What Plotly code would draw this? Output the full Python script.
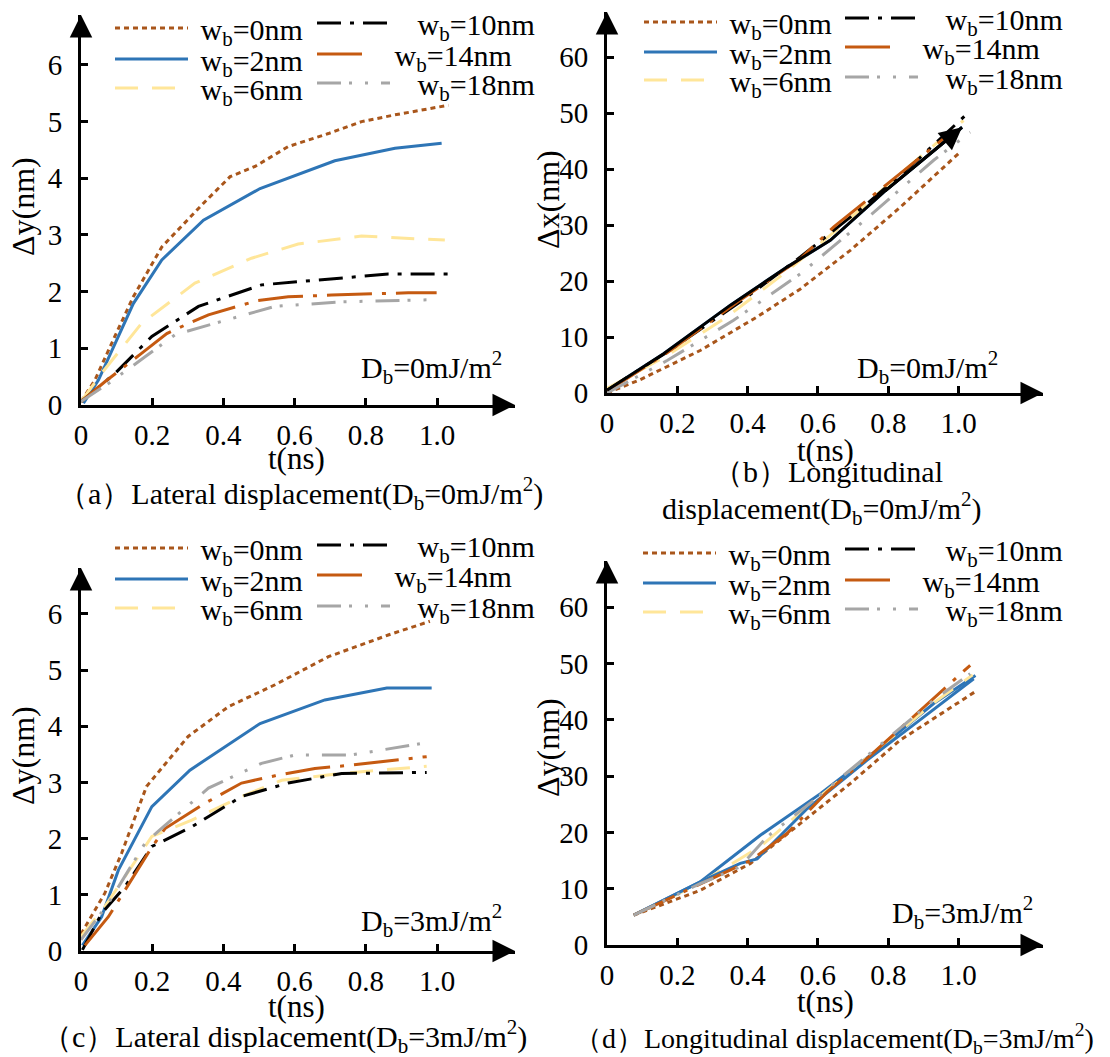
import plotly.graph_objects as go

W, H = 1110, 1057
FONT = "Liberation Serif"

# ---------------- data ----------------
LABELS = ["w<sub>b</sub>=0nm", "w<sub>b</sub>=2nm", "w<sub>b</sub>=6nm",
          "w<sub>b</sub>=10nm", "w<sub>b</sub>=14nm", "w<sub>b</sub>=18nm"]
X_TICKS = [0, 0.2, 0.4, 0.6, 0.8, 1.0]
X_TICKTEXT = ["0", "0.2", "0.4", "0.6", "0.8", "1.0"]
Y_TICKS_LAT = [0, 1, 2, 3, 4, 5, 6]
Y_TICKS_LON = [0, 10, 20, 30, 40, 50, 60]

# (a) lateral displacement, Db = 0
a_t_0 = [0, 0.039, 0.095, 0.147, 0.227, 0.344, 0.419, 0.489, 0.582, 0.695, 0.788, 0.882, 1.032]
a_v_0 = [0.06, 0.44, 1.21, 1.91, 2.79, 3.56, 4.03, 4.21, 4.56, 4.79, 5.0, 5.12, 5.29]
a_t_2 = [0.007, 0.049, 0.147, 0.227, 0.344, 0.503, 0.713, 0.882, 1.013]
a_v_2 = [0.03, 0.44, 1.79, 2.56, 3.26, 3.82, 4.31, 4.53, 4.62]
a_t_6 = [0, 0.058, 0.170, 0.320, 0.479, 0.610, 0.788, 1.022]
a_v_6 = [0.06, 0.56, 1.44, 2.15, 2.59, 2.84, 2.98, 2.91]
a_t_10 = [0, 0.096, 0.199, 0.330, 0.507, 0.732, 0.863, 1.032]
a_v_10 = [0.06, 0.56, 1.21, 1.74, 2.12, 2.24, 2.31, 2.31]
a_t_14 = [0, 0.067, 0.170, 0.241, 0.292, 0.358, 0.493, 0.582, 0.704, 0.919, 0.999]
a_v_14 = [0.06, 0.41, 0.91, 1.26, 1.41, 1.59, 1.84, 1.91, 1.94, 1.98, 1.98]
a_t_18 = [0, 0.077, 0.180, 0.264, 0.358, 0.545, 0.732, 0.999]
a_v_18 = [0.06, 0.38, 0.85, 1.24, 1.41, 1.74, 1.82, 1.86]

# (b) longitudinal displacement, Db = 0
b_t_0 = [0, 0.095, 0.265, 0.427, 0.550, 0.692, 0.834, 1.005]
b_v_0 = [0, 2.4, 7.6, 13.6, 18.6, 25.5, 33.2, 43.1]
b_t_2 = [0, 0.161, 0.351, 0.512, 0.635, 0.787, 1.010]
b_v_2 = [0.5, 7.0, 15.7, 22.5, 27.3, 35.9, 47.5]
b_t_6 = [0, 0.171, 0.341, 0.502, 0.664, 0.834, 1.014]
b_v_6 = [0.8, 6.7, 13.6, 21.3, 29.7, 39.2, 48.7]
b_t_10 = [0, 0.171, 0.379, 0.550, 0.739, 0.882, 1.019]
b_v_10 = [0.5, 7.3, 16.3, 24.3, 33.8, 41.6, 49.6]
b_t_14 = [0, 0.171, 0.379, 0.550, 0.645, 0.787, 0.986]
b_v_14 = [0.3, 7.2, 16.6, 24.0, 29.7, 36.8, 46.9]
b_t_18 = [0, 0.171, 0.360, 0.550, 0.739, 0.929, 1.033]
b_v_18 = [0, 5.8, 13.0, 21.3, 31.2, 41.6, 46.6]

# (c) lateral displacement, Db = 3
c_t_0 = [0, 0.067, 0.114, 0.184, 0.301, 0.414, 0.545, 0.695, 0.865, 0.98]
c_v_0 = [0.3, 1.03, 1.74, 2.93, 3.82, 4.35, 4.74, 5.24, 5.63, 5.87]
c_t_2 = [0.004, 0.058, 0.105, 0.199, 0.306, 0.503, 0.685, 0.859, 0.985]
c_v_2 = [0.1, 0.61, 1.44, 2.57, 3.22, 4.05, 4.47, 4.68, 4.68]
c_t_6 = [0, 0.067, 0.199, 0.311, 0.451, 0.564, 0.732, 0.971]
c_v_6 = [0.26, 0.79, 2.04, 2.33, 2.75, 3.04, 3.16, 3.29]
c_t_10 = [0.004, 0.058, 0.124, 0.199, 0.311, 0.451, 0.582, 0.732, 0.971]
c_v_10 = [0.02, 0.67, 1.15, 1.86, 2.21, 2.75, 2.99, 3.16, 3.18]
c_t_14 = [0.011, 0.077, 0.194, 0.236, 0.348, 0.451, 0.545, 0.657, 0.760, 0.971]
c_v_14 = [0.1, 0.61, 1.80, 2.18, 2.63, 2.99, 3.12, 3.25, 3.31, 3.46]
c_t_18 = [0, 0.077, 0.180, 0.231, 0.358, 0.507, 0.601, 0.760, 0.952]
c_v_18 = [0.2, 0.85, 1.92, 2.21, 2.90, 3.34, 3.49, 3.49, 3.69]

# (d) longitudinal displacement, Db = 3
d_t_0 = [0.076, 0.265, 0.408, 0.550, 0.692, 0.834, 1.052]
d_v_0 = [5.3, 9.7, 14.5, 21.6, 28.7, 36.4, 45.2]
d_t_2 = [0.076, 0.265, 0.436, 0.607, 0.768, 0.929, 1.048]
d_v_2 = [5.3, 11.2, 19.5, 26.9, 34.6, 42.9, 47.9]
d_t_6 = [0.076, 0.265, 0.436, 0.588, 0.758, 0.929, 1.040]
d_v_6 = [5.3, 11.0, 17.5, 25.5, 34.2, 43.0, 48.0]
d_t_10 = [0.076, 0.265, 0.379, 0.427, 0.569, 0.739, 0.882, 1.043]
d_v_10 = [5.3, 11.2, 14.5, 15.3, 24.2, 32.8, 39.6, 47.3]
d_t_14 = [0.076, 0.265, 0.408, 0.512, 0.626, 0.739, 0.891, 1.033]
d_v_14 = [5.3, 10.9, 15.0, 19.8, 27.2, 33.1, 41.7, 49.7]
d_t_18 = [0.076, 0.265, 0.379, 0.455, 0.588, 0.758, 0.929, 1.033]
d_v_18 = [5.3, 10.9, 13.9, 19.2, 25.7, 34.6, 43.5, 48.2]

# ---------------- styles ----------------
COLORS = ["#A9561B", "#2E75B6", "#FFE699", "#000000", "#C55A11", "#A6A6A6"]
DASHES = ["5px,4px", "solid", "23px,14px", "24px,9px,4px,9px",
          "45px,10px,4px,10px", "24px,8px,3px,13px,3px,13px"]
WIDTHS = [3, 3, 3, 3, 3, 3]

# panel geometry in pixels: origin, px per unit, arrow tips
GEOM = [
    dict(ox=81, oy=405, sx=356.0, sy=56.67, xtip=515, ytip=15),
    dict(ox=607, oy=393, sx=351.6, sy=5.595, xtip=1043, ytip=12),
    dict(ox=81, oy=951, sx=356.0, sy=56.17, xtip=515, ytip=568),
    dict(ox=607, oy=945, sx=351.6, sy=5.628, xtip=1043, ytip=561),
]
# legend geometry: (line start x, row centre y) for each series
LEG_POS = [
    [(115, 28), (115, 59), (115, 88), (317, 23), (317, 54), (317, 83)],
    [(644, 22), (644, 52), (644, 80), (845, 18), (845, 47), (845, 77)],
    [(115, 548), (115, 579), (115, 608), (317, 545), (317, 575), (317, 606)],
    [(643, 553), (643, 583), (643, 612), (845, 549), (845, 580), (845, 609)],
]

PANELS = [
    [(a_t_0, a_v_0), (a_t_2, a_v_2), (a_t_6, a_v_6), (a_t_10, a_v_10), (a_t_14, a_v_14), (a_t_18, a_v_18)],
    [(b_t_0, b_v_0), (b_t_2, b_v_2), (b_t_6, b_v_6), (b_t_10, b_v_10), (b_t_14, b_v_14), (b_t_18, b_v_18)],
    [(c_t_0, c_v_0), (c_t_2, c_v_2), (c_t_6, c_v_6), (c_t_10, c_v_10), (c_t_14, c_v_14), (c_t_18, c_v_18)],
    [(d_t_0, d_v_0), (d_t_2, d_v_2), (d_t_6, d_v_6), (d_t_10, d_v_10), (d_t_14, d_v_14), (d_t_18, d_v_18)],
]


def fx(p):
    return p / W


def fy(p):
    return 1 - p / H


fig = go.Figure()
layout = dict(
    width=W, height=H, template="none",
    margin=dict(l=0, r=0, t=0, b=0, autoexpand=False),
    paper_bgcolor="white", plot_bgcolor="rgba(0,0,0,0)",
    font=dict(family=FONT, size=29, color="black"),
    showlegend=True,
)
annotations = []
leg_n = 0

for i, (series, g) in enumerate(zip(PANELS, GEOM)):
    sfx = "" if i == 0 else str(i + 1)
    xa, ya = "x" + sfx, "y" + sfx
    xmax = (g["xtip"] - g["ox"]) / g["sx"]
    ymax = (g["oy"] - g["ytip"]) / g["sy"]
    lat = i in (0, 2)
    common = dict(showline=True, linewidth=3, linecolor="black", mirror=False,
                  ticks="inside", ticklen=7, tickwidth=2.5, tickcolor="black",
                  showgrid=False, zeroline=False, automargin=False,
                  tickfont=dict(family=FONT, size=29, color="black"), fixedrange=True)
    layout["xaxis" + sfx] = dict(common, domain=[fx(g["ox"]), fx(g["xtip"])], range=[0, xmax],
                                 anchor=ya, tickmode="array", tickvals=X_TICKS,
                                 ticktext=X_TICKTEXT, ticklabelstandoff=2)
    layout["yaxis" + sfx] = dict(common, domain=[fy(g["oy"]), fy(g["ytip"])], range=[0, ymax],
                                 anchor=xa, tickmode="array",
                                 tickvals=Y_TICKS_LAT if lat else Y_TICKS_LON,
                                 ticklabelstandoff=10)
    # arrow heads of the axes
    annotations.append(dict(x=xmax, y=0, xref=xa, yref=ya, ax=-22, ay=0, text="",
                            showarrow=True, arrowhead=2, arrowsize=1.5, arrowwidth=3,
                            arrowcolor="black"))
    annotations.append(dict(x=0, y=ymax, xref=xa, yref=ya, ax=0, ay=22, text="",
                            showarrow=True, arrowhead=2, arrowsize=1.5, arrowwidth=3,
                            arrowcolor="black"))

    for k, (t, v) in enumerate(series):
        leg_n += 1
        lid = "legend" if leg_n == 1 else "legend%d" % leg_n
        line = dict(color=COLORS[k], width=WIDTHS[k], dash=DASHES[k])
        pad = "\u00a0" if k < 3 else "\u00a0\u00a0\u00a0"
        if i == 3 and k == 3:
            # in (d) the wb=10nm curve is drawn as a solid blue line
            fig.add_trace(go.Scatter(x=t, y=v, mode="lines", xaxis=xa, yaxis=ya,
                                     line=dict(color=COLORS[1], width=3), showlegend=False,
                                     hoverinfo="skip"))
            fig.add_trace(go.Scatter(x=[None], y=[None], mode="lines", xaxis=xa, yaxis=ya,
                                     line=line, name=pad + LABELS[k], legend=lid,
                                     hoverinfo="skip"))
        else:
            fig.add_trace(go.Scatter(x=t, y=v, mode="lines", xaxis=xa, yaxis=ya, line=line,
                                     name=pad + LABELS[k], legend=lid, hoverinfo="skip"))
        lx, ly = LEG_POS[i][k]
        layout[lid] = dict(x=fx(lx - 5), y=fy(ly), xanchor="left", yanchor="middle",
                           orientation="v", bgcolor="rgba(0,0,0,0)", borderwidth=0,
                           itemwidth=73 if k != 4 else 50,
                           font=dict(family=FONT, size=30, color="black"),
                           itemclick=False, itemdoubleclick=False)
    if i == 1:
        # black overlay with arrow head on the wb=2nm curve of panel (b)
        t, v = series[1]
        fig.add_trace(go.Scatter(x=t, y=v, mode="lines", xaxis=xa, yaxis=ya,
                                 line=dict(color="black", width=3), showlegend=False,
                                 hoverinfo="skip"))
        annotations.append(dict(x=t[-1], y=v[-1], ax=t[-2], ay=v[-2], xref=xa, yref=ya,
                                axref=xa, ayref=ya, text="", showarrow=True, arrowhead=2,
                                arrowsize=1.5, arrowwidth=3, arrowcolor="black"))

# text annotations: (text, x px, y px, angle, size)
TEXTS = [
    ("\u0394y(nm)", 23, 207, -90, 32),
    ("\u0394x(nm)", 548, 200, -90, 32),
    ("\u0394y(nm)", 23, 756, -90, 32),
    ("\u0394y(nm)", 548, 748, -90, 32),
    ("t(ns)", 296, 458, 0, 31),
    ("t(ns)", 825, 450, 0, 31),
    ("t(ns)", 296, 1006, 0, 31),
    ("t(ns)", 825, 1001, 0, 31),
    ("D<sub>b</sub>=0mJ/m<sup>2</sup>", 431, 367, 0, 30),
    ("D<sub>b</sub>=0mJ/m<sup>2</sup>", 927, 367, 0, 30),
    ("D<sub>b</sub>=3mJ/m<sup>2</sup>", 431, 920, 0, 30),
    ("D<sub>b</sub>=3mJ/m<sup>2</sup>", 962, 912, 0, 30),
    ("\uff08a\uff09Lateral displacement(D<sub>b</sub>=0mJ/m<sup>2</sup>)", 300, 493, 0, 30),
    ("\uff08b\uff09Longitudinal", 828, 472, 0, 30),
    ("displacement(D<sub>b</sub>=0mJ/m<sup>2</sup>)", 822, 508, 0, 30),
    ("\uff08c\uff09Lateral displacement(D<sub>b</sub>=3mJ/m<sup>2</sup>)", 284, 1036, 0, 30),
    ("\uff08d\uff09Longitudinal displacement(D<sub>b</sub>=3mJ/m<sup>2</sup>)", 834, 1038, 0, 28),
]
for txt, x, y, ang, sz in TEXTS:
    annotations.append(dict(text=txt, x=fx(x), y=fy(y), xref="paper", yref="paper",
                            xanchor="center", yanchor="middle", showarrow=False,
                            textangle=ang, font=dict(family=FONT, size=sz, color="black")))

layout["annotations"] = annotations
fig.update_layout(**layout)
fig.write_html("out.html", config={"displayModeBar": False},
               post_script="document.body.style.margin='0px';document.body.style.padding='0px';")
